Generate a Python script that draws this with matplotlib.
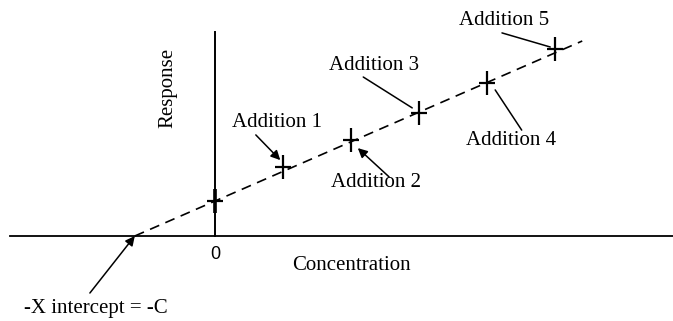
import matplotlib.pyplot as plt

# standard additions: concentration added vs. measured response
conc = [0, 1, 2, 3, 4, 5]
response = [1.17, 2.3, 3.2, 4.1, 5.1, 6.23]

# dashed calibration line, from the x intercept out past the last addition
line_x = [-1.18, 5.4]
line_y = [0.0, 6.5]

labels = ['Addition 1', 'Addition 2', 'Addition 3', 'Addition 4', 'Addition 5']
label_pos = [(0.91, 3.77), (2.37, 1.77), (2.34, 5.70), (4.35, 3.20), (4.25, 7.20)]
pointer_from = [(0.60, 3.37), (2.56, 1.97), (2.18, 5.30), (4.51, 3.53), (4.22, 6.77)]
pointer_to = [(0.96, 2.53), (2.10, 2.93), (2.90, 4.27), (4.12, 4.87), (4.93, 6.30)]
arrow_head = [True, True, False, False, False]

serif = 'Liberation Serif'

fig = plt.figure(figsize=(6.73, 3.21), dpi=100)
ax = fig.add_axes([0, 0, 1, 1])
ax.set_xlim(-3.162, 6.735)
ax.set_ylim(-2.833, 7.867)
ax.axis('off')

# axes drawn as plain lines through the origin
ax.plot([-3.01, 6.735], [0, 0], color='black', lw=1.3)
ax.plot([0, 0], [0, 6.8], color='black', lw=1.4)

ax.plot(line_x, line_y, color='black', lw=1.2, dashes=(6, 4))

# crosses: taller than wide
ax.plot(conc, response, ls='none', marker='|', ms=17, mew=1.6, color='black')
ax.plot(conc, response, ls='none', marker='_', ms=11, mew=1.6, color='black')
ax.plot(conc[:1], response[:1], ls='none', marker='|', ms=17, mew=2.6, color='black')

for text, tp, p0, p1, head in zip(labels, label_pos, pointer_from, pointer_to, arrow_head):
    ax.text(tp[0], tp[1], text, family=serif, fontsize=15, ha='center', va='center')
    style = '-|>' if head else '-'
    ax.annotate('', xy=p1, xytext=p0,
                arrowprops=dict(arrowstyle=style, color='black', lw=1.1,
                                mutation_scale=14, shrinkA=0, shrinkB=0))

ax.text(0, -0.6, '0', family='Liberation Sans', fontsize=13, ha='center', va='center')
ax.text(2.01, -0.97, 'Concentration', family=serif, fontsize=15, ha='center', va='center')
ax.text(-0.69, 4.93, 'Response', family=serif, fontsize=15, rotation=90,
        ha='center', va='center')

ax.text(-1.75, -2.4, '-X intercept = -C', family=serif, fontsize=15,
        ha='center', va='center')
ax.annotate('', xy=(line_x[0], line_y[0]), xytext=(-1.84, -1.9),
            arrowprops=dict(arrowstyle='-|>', color='black', lw=1.1,
                            mutation_scale=14, shrinkA=0, shrinkB=0))

fig.savefig('out.png', dpi=100)
